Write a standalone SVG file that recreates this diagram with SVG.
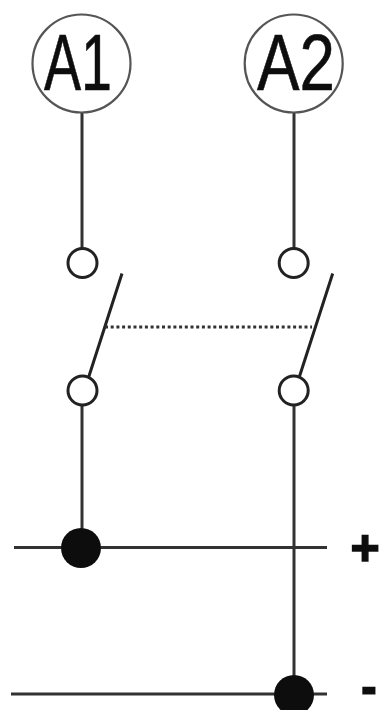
<svg xmlns="http://www.w3.org/2000/svg" width="380" height="710" viewBox="0 0 380 710">
<style>
.wire{fill:none;stroke:#333;stroke-width:3}
.blade{fill:none;stroke:#222;stroke-width:3}
.link{fill:none;stroke:#333;stroke-width:3;stroke-dasharray:3 2.7}
.term{fill:#fff;stroke:#222;stroke-width:3}
.coil{fill:#fff;stroke:#555;stroke-width:2.2}
.dot{fill:#111}
.lab{font-family:"Liberation Sans",Arial,sans-serif;font-size:80px;fill:#111;stroke:#111;stroke-width:.6}
.sign{font-family:"Liberation Sans",Arial,sans-serif;font-weight:bold;fill:#111;stroke:#111}
</style>
<defs><filter id="soft" x="0" y="0" width="380" height="710" filterUnits="userSpaceOnUse"><feGaussianBlur stdDeviation="0.5"/></filter></defs>
<rect width="380" height="710" fill="#fff"/>
<g filter="url(#soft)">
<g id="connectors">
<path class="wire" d="M82 112V250M294 112V250M82 405V530M294 405V677M14 547.5H327M11 694H327"/>
<path class="blade" d="M88.7 377L122 273.5M299.3 377L332.7 273.5"/>
<path class="link" d="M105 327H312"/>
</g>
<g id="A1"><circle class="coil" cx="81.5" cy="63.5" r="49"/><text class="lab" x="44" y="90" textLength="68" lengthAdjust="spacingAndGlyphs">A1</text></g>
<g id="A2"><circle class="coil" cx="293.7" cy="63.5" r="49"/><text class="lab" x="257" y="90" textLength="78" lengthAdjust="spacingAndGlyphs">A2</text></g>
<g id="t1"><circle class="term" cx="82.5" cy="263" r="14.5"/></g>
<g id="t2"><circle class="term" cx="293.7" cy="263" r="14.5"/></g>
<g id="t3"><circle class="term" cx="82.5" cy="390.5" r="14.5"/></g>
<g id="t4"><circle class="term" cx="293.7" cy="390.5" r="14.5"/></g>
<g id="j1"><circle class="dot" cx="81" cy="548" r="20"/></g>
<g id="j2"><circle class="dot" cx="294" cy="695" r="20"/></g>
<g id="plus"><text class="sign" x="350.5" y="565" font-size="50" stroke-width="1.5">+</text></g>
<g id="minus"><text class="sign" x="362.3" y="701" font-size="40" stroke-width="3">-</text></g>
</g>
</svg>
